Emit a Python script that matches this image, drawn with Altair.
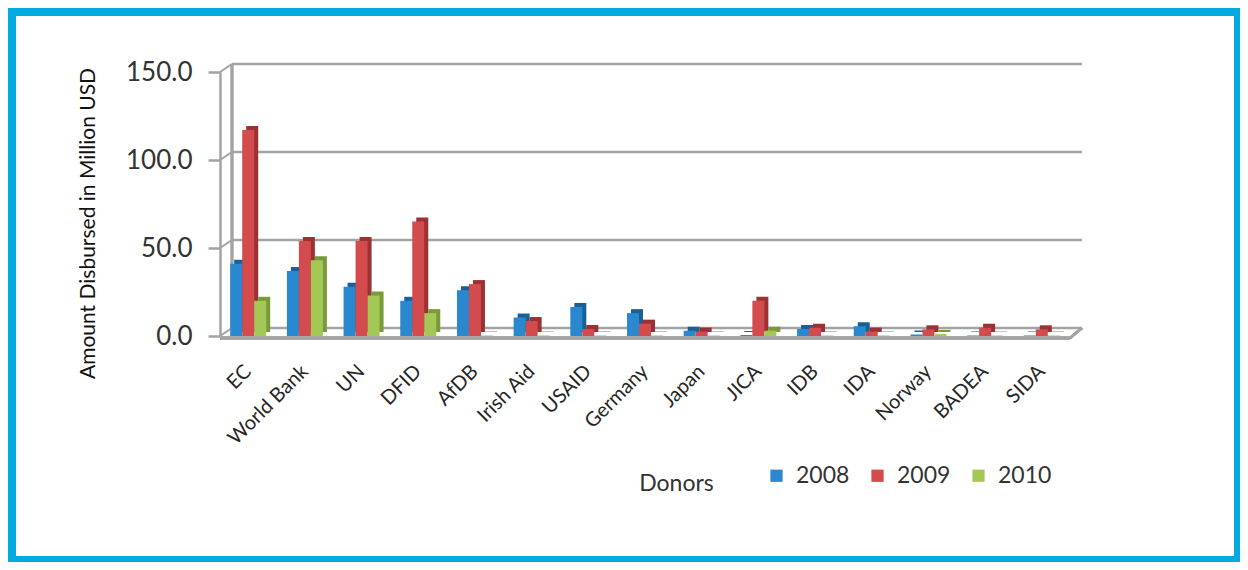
import altair as alt
import pandas as pd

donors = ["EC", "World Bank", "UN", "DFID", "AfDB", "Irish Aid", "USAID", "Germany",
          "Japan", "JICA", "IDB", "IDA", "Norway", "BADEA", "SIDA"]
years = ["2008", "2009", "2010"]
v2008 = [41, 37, 28, 20, 26, 10.5, 16.5, 13, 3, 0.5, 4, 5.5, 0.8, 0.3, 0.3]
v2009 = [117, 54, 54, 65, 29.5, 8.5, 4, 7, 2.5, 20, 4.7, 2.5, 3.8, 4.7, 3.8]
v2010 = [20, 43, 23, 13, 0.3, 0.3, 0.3, 0.3, 0.3, 3, 0.3, 0.3, 1.2, 0.3, 0.3]
ticks = [0, 50, 100, 150]

front_colors = ["#2A88CE", "#D44B4E", "#A4C856"]
side_colors = ["#1B5F97", "#9C3134", "#789A38"]

rows = []
for i, d in enumerate(donors):
    for y, vals in zip(years, [v2008, v2009, v2010]):
        rows.append({"donor": d, "year": y, "value": vals[i]})
df = pd.DataFrame(rows)
tick_df = pd.DataFrame({"v": ticks})

FONT = "Lato"
W, H = 850, 264
GRID = "#A3A3A3"


def ys():
    return alt.Scale(domain=[0, 150], nice=False, zero=True)


yaxis = alt.Axis(title="Amount Disbursed in Million USD", values=ticks, format=".1f",
                 grid=False, tickSize=12, tickColor=GRID, tickWidth=2.5,
                 domainColor=GRID, domainWidth=2.5, labelPadding=16,
                 labelFontSize=26, labelFont=FONT, labelColor="#333333",
                 titleFont=FONT, titleFontSize=21, titleFontWeight="normal",
                 titleColor="#111111", titleX=-122, titleY=151, titleAngle=-90)

# back wall gridlines (first layer carries the y axis)
grid = alt.Chart(tick_df).mark_rule(color=GRID, strokeWidth=2.5, yOffset=-8, y2Offset=-8).encode(
    y=alt.Y("v:Q", scale=ys(), axis=yaxis), y2="v:Q",
    x=alt.value(12), x2=alt.value(862))
diag = alt.Chart(tick_df).mark_rule(color=GRID, strokeWidth=2, y2Offset=-8).encode(
    y=alt.Y("v:Q", scale=ys()), y2="v:Q",
    x=alt.value(0), x2=alt.value(12))
wall = alt.Chart(tick_df).mark_rule(color=GRID, strokeWidth=2.5, yOffset=-8, y2Offset=-8).encode(
    y=alt.Y(datum=0, scale=ys()), y2=alt.Y2(datum=150), x=alt.value(12))
floor_front = alt.Chart(tick_df).mark_rule(color=GRID, strokeWidth=3, yOffset=2).encode(
    y=alt.Y(datum=0, scale=ys()), x=alt.value(0), x2=alt.value(850))
floor_side = alt.Chart(tick_df).mark_rule(color=GRID, strokeWidth=2.5, yOffset=2, y2Offset=-8).encode(
    y=alt.Y(datum=0, scale=ys()), y2=alt.Y2(datum=0), x=alt.value(850), x2=alt.value(862))

base = alt.Chart(df)
shadow = base.mark_bar(yOffset=-4).encode(
    x=alt.X("donor:N", sort=donors, axis=None,
            scale=alt.Scale(range=[4, W + 4], paddingInner=0.365, paddingOuter=0.18)),
    xOffset=alt.XOffset("year:N", sort=years, scale=alt.Scale(paddingInner=0, paddingOuter=0)),
    y=alt.Y("value:Q", scale=ys()),
    color=alt.Color("year:N", scale=alt.Scale(domain=years, range=side_colors), legend=None),
)
bars = base.mark_bar().encode(
    x=alt.X("donor:N", sort=donors,
            scale=alt.Scale(paddingInner=0.365, paddingOuter=0.18),
            axis=alt.Axis(title="Donors", labelAngle=-45, labelAlign="right", labelBaseline="middle",
                          labelPadding=32, ticks=False, domain=False, labelFontSize=20,
                          labelFont=FONT, labelColor="#262626",
                          titleX=456, titleY=147, titleBaseline="middle", titleAlign="center",
                          titleFontSize=23, titleFont=FONT, titleFontWeight="normal",
                          titleColor="#333333")),
    xOffset=alt.XOffset("year:N", sort=years, scale=alt.Scale(paddingInner=0, paddingOuter=0)),
    y=alt.Y("value:Q", scale=ys()),
    color=alt.Color("year:N", scale=alt.Scale(domain=years, range=front_colors),
                    legend=alt.Legend(title=None, orient="none", direction="horizontal",
                                      legendX=545, legendY=392, symbolType="square",
                                      symbolSize=150, symbolStrokeWidth=0,
                                      labelFontSize=23, labelFont=FONT, labelColor="#333333",
                                      labelOffset=8, columnPadding=16)),
)

frame = alt.Chart(tick_df).mark_rect(fill="transparent", stroke="#00A9E0", strokeWidth=8).encode(
    x=alt.value(-208), x2=alt.value(1018), y=alt.value(-60), y2=alt.value(488))

chart = alt.layer(frame, grid, diag, wall, floor_front, floor_side, shadow, bars).resolve_scale(
    x="independent", xOffset="independent", color="independent"
).properties(
    width=W, height=H,
    background="white",
    autosize=alt.AutoSizeParams(type="none"),
    padding={"left": 212, "top": 64, "right": 170, "bottom": 226},
).configure_view(stroke=None, strokeWidth=0)

chart.save("out.html", embed_options={"renderer": "svg", "actions": False})
